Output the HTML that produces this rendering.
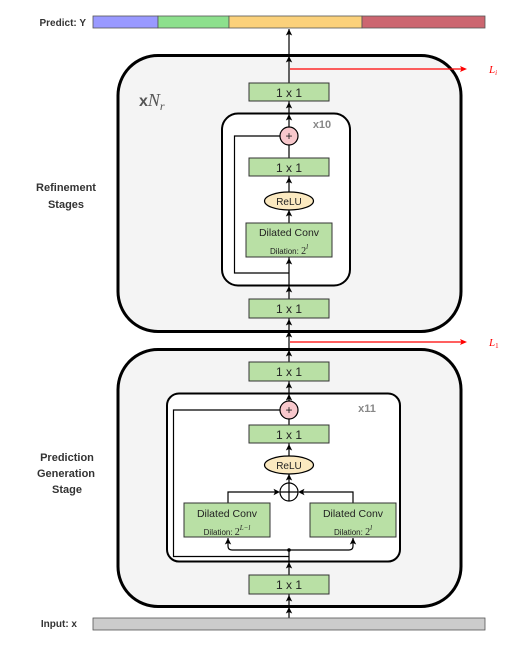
<!DOCTYPE html>
<html><head><meta charset="utf-8"><style>
html,body{margin:0;padding:0;background:#fff;}
svg{display:block;}
text{font-family:"Liberation Sans",sans-serif;}
</style></head><body>
<svg width="522" height="647" viewBox="0 0 522 647" xmlns="http://www.w3.org/2000/svg">
<defs>
<g id="ah"><polygon points="0,0 -3.2,6.5 0,5 3.2,6.5" fill="#000"/></g>
</defs>
<!-- Predict bar -->
<text x="86" y="26" font-size="10" font-weight="bold" fill="#333" text-anchor="end">Predict: Y</text>
<rect x="93" y="16" width="65" height="12" fill="#9999ff" stroke="#555" stroke-width="0.8"/>
<rect x="158" y="16" width="71" height="12" fill="#8de08d" stroke="#555" stroke-width="0.8"/>
<rect x="229" y="16" width="133" height="12" fill="#fbd17b" stroke="#555" stroke-width="0.8"/>
<rect x="362" y="16" width="123" height="12" fill="#cc6670" stroke="#555" stroke-width="0.8"/>

<!-- outer boxes -->
<rect x="118" y="55.5" width="343" height="276" rx="40" fill="#f4f4f4" stroke="#000" stroke-width="3"/>
<rect x="118" y="349.5" width="343" height="257" rx="40" fill="#f4f4f4" stroke="#000" stroke-width="3"/>
<!-- inner boxes -->
<rect x="222" y="113.5" width="128" height="172" rx="16" fill="#fff" stroke="#000" stroke-width="2"/>
<rect x="167" y="393.5" width="233" height="168" rx="12" fill="#fff" stroke="#000" stroke-width="2"/>

<!-- skip lines -->
<polyline points="289,136 234.5,136 234.5,273 289,273" fill="none" stroke="#000" stroke-width="1.2"/>
<polyline points="289,410 173.5,410 173.5,556.5 289,556.5" fill="none" stroke="#000" stroke-width="1.2"/>

<!-- main line -->
<line x1="289" y1="29" x2="289" y2="483" stroke="#000" stroke-width="1.2"/>
<line x1="289" y1="550" x2="289" y2="618" stroke="#000" stroke-width="1.2"/>

<!-- refinement components -->
<rect x="249" y="83" width="80" height="18" fill="#b9e0a5" stroke="#333" stroke-width="1"/>
<text x="289" y="97" font-size="12" text-anchor="middle" fill="#222">1 x 1</text>
<rect x="249" y="158" width="80" height="18" fill="#b9e0a5" stroke="#333" stroke-width="1"/>
<text x="289" y="172" font-size="12" text-anchor="middle" fill="#222">1 x 1</text>
<rect x="249" y="299" width="80" height="19" fill="#b9e0a5" stroke="#333" stroke-width="1"/>
<text x="289" y="313" font-size="12" text-anchor="middle" fill="#222">1 x 1</text>
<ellipse cx="289" cy="201" rx="24.5" ry="9" fill="#fbe9c0" stroke="#000" stroke-width="1.2"/>
<text x="289" y="205" font-size="10" text-anchor="middle" fill="#222">ReLU</text>
<rect x="246" y="223" width="86" height="34" fill="#b9e0a5" stroke="#333" stroke-width="1"/>
<text x="289" y="236" font-size="10.5" text-anchor="middle" fill="#222">Dilated Conv</text>
<text x="289" y="254" font-size="8" text-anchor="middle" fill="#222">Dilation: <tspan font-family="Liberation Serif" font-size="10">2</tspan><tspan font-family="Liberation Serif" font-style="italic" font-size="7" dy="-5">l</tspan></text>
<circle cx="289" cy="136" r="9" fill="#f8c8cc" stroke="#000" stroke-width="1.2"/>
<text x="289" y="140" font-size="12" text-anchor="middle" fill="#222">+</text>
<text x="322" y="128" font-size="11" font-weight="bold" text-anchor="middle" fill="#888">x10</text>
<text x="139" y="106" font-size="16" font-weight="bold" fill="#555">x<tspan font-family="Liberation Serif" font-style="italic" font-weight="normal" font-size="18">N</tspan><tspan font-family="Liberation Serif" font-style="italic" font-weight="normal" font-size="12" dy="4">r</tspan></text>
<text x="66" y="191" font-size="11" font-weight="bold" text-anchor="middle" fill="#333">Refinement</text>
<text x="66" y="208" font-size="11" font-weight="bold" text-anchor="middle" fill="#333">Stages</text>

<!-- red arrows -->
<line x1="290" y1="69" x2="462" y2="69" stroke="#f00" stroke-width="1.2"/>
<polygon points="467,69 460,66 461.5,69 460,72" fill="#f00"/>
<text x="489" y="73" font-size="11" font-style="italic" fill="#f00" style="font-family:'Liberation Serif',serif">L<tspan font-size="7" dy="2">i</tspan></text>
<line x1="290" y1="342" x2="462" y2="342" stroke="#f00" stroke-width="1.2"/>
<polygon points="467,342 460,339 461.5,342 460,345" fill="#f00"/>
<text x="489" y="346" font-size="11" font-style="italic" fill="#f00" style="font-family:'Liberation Serif',serif">L<tspan font-size="7" font-style="normal" dy="2">1</tspan></text>

<!-- prediction components -->
<rect x="249" y="362" width="80" height="19" fill="#b9e0a5" stroke="#333" stroke-width="1"/>
<text x="289" y="376" font-size="12" text-anchor="middle" fill="#222">1 x 1</text>
<rect x="249" y="425" width="80" height="18" fill="#b9e0a5" stroke="#333" stroke-width="1"/>
<text x="289" y="439" font-size="12" text-anchor="middle" fill="#222">1 x 1</text>
<rect x="249" y="575" width="80" height="19" fill="#b9e0a5" stroke="#333" stroke-width="1"/>
<text x="289" y="589" font-size="12" text-anchor="middle" fill="#222">1 x 1</text>
<ellipse cx="289" cy="465" rx="24.5" ry="9" fill="#fbe9c0" stroke="#000" stroke-width="1.2"/>
<text x="289" y="469" font-size="10" text-anchor="middle" fill="#222">ReLU</text>
<circle cx="289" cy="492" r="9" fill="#fff" stroke="#000" stroke-width="1.2"/>
<line x1="280" y1="492" x2="298" y2="492" stroke="#000" stroke-width="1.2"/>
<line x1="289" y1="483" x2="289" y2="501" stroke="#000" stroke-width="1.2"/>
<polyline points="228,503 228,492 278,492" fill="none" stroke="#000" stroke-width="1.2"/>
<polyline points="353,503 353,492 300,492" fill="none" stroke="#000" stroke-width="1.2"/>
<polygon points="280,492 273.5,488.8 275,492 273.5,495.2" fill="#000"/>
<polygon points="298,492 304.5,488.8 303,492 304.5,495.2" fill="#000"/>
<path d="M228,538 V546 Q228,550 232,550 H349 Q353,550 353,546 V538" fill="none" stroke="#000" stroke-width="1.2"/>
<circle cx="289" cy="550" r="1.8" fill="#000"/>
<rect x="184" y="503" width="86" height="34" fill="#b9e0a5" stroke="#333" stroke-width="1"/>
<text x="227" y="517" font-size="10.5" text-anchor="middle" fill="#222">Dilated Conv</text>
<text x="227" y="535" font-size="8" text-anchor="middle" fill="#222">Dilation: <tspan font-family="Liberation Serif" font-size="10">2</tspan><tspan font-family="Liberation Serif" font-style="italic" font-size="7" dy="-5">L−l</tspan></text>
<rect x="310" y="503" width="86" height="34" fill="#b9e0a5" stroke="#333" stroke-width="1"/>
<text x="353" y="517" font-size="10.5" text-anchor="middle" fill="#222">Dilated Conv</text>
<text x="353" y="535" font-size="8" text-anchor="middle" fill="#222">Dilation: <tspan font-family="Liberation Serif" font-size="10">2</tspan><tspan font-family="Liberation Serif" font-style="italic" font-size="7" dy="-5">l</tspan></text>
<circle cx="289" cy="410" r="9" fill="#f8c8cc" stroke="#000" stroke-width="1.2"/>
<text x="289" y="414" font-size="12" text-anchor="middle" fill="#222">+</text>
<text x="367" y="412" font-size="11" font-weight="bold" text-anchor="middle" fill="#888">x11</text>
<text x="67" y="461" font-size="11" font-weight="bold" text-anchor="middle" fill="#333">Prediction</text>
<text x="66" y="477" font-size="11" font-weight="bold" text-anchor="middle" fill="#333">Generation</text>
<text x="67" y="493" font-size="11" font-weight="bold" text-anchor="middle" fill="#333">Stage</text>

<!-- Input bar -->
<text x="77" y="627" font-size="10" font-weight="bold" fill="#333" text-anchor="end">Input: x</text>
<rect x="93" y="618" width="392" height="12" fill="#cccccc" stroke="#555" stroke-width="0.8"/>

<!-- arrowheads -->
<use href="#ah" x="289" y="29"/>
<use href="#ah" x="289" y="56"/>
<use href="#ah" x="289" y="102"/>
<use href="#ah" x="289" y="114"/>
<use href="#ah" x="289" y="177"/>
<use href="#ah" x="289" y="210"/>
<use href="#ah" x="289" y="258"/>
<use href="#ah" x="289" y="286"/>
<use href="#ah" x="289" y="319"/>
<use href="#ah" x="289" y="331"/>
<use href="#ah" x="289" y="350"/>
<use href="#ah" x="289" y="382"/>
<use href="#ah" x="289" y="394"/>
<use href="#ah" x="289" y="444"/>
<use href="#ah" x="289" y="474"/>
<use href="#ah" x="228" y="538"/>
<use href="#ah" x="353" y="538"/>
<use href="#ah" x="289" y="562"/>
<use href="#ah" x="289" y="595"/>
<use href="#ah" x="289" y="607"/>
</svg>
</body></html>
